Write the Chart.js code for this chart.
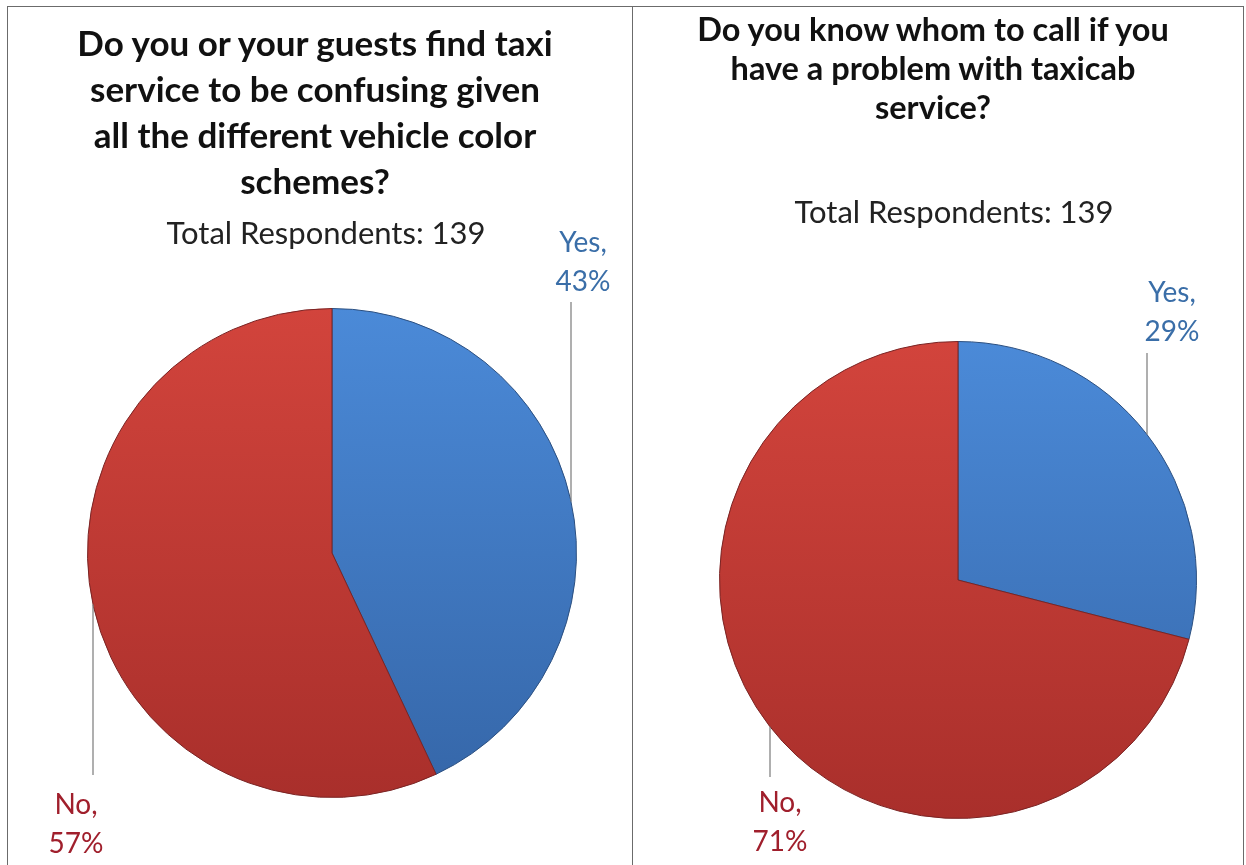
<!DOCTYPE html>
<html>
<head>
<meta charset="utf-8">
<script src="https://cdn.jsdelivr.net/npm/chart.js@4/dist/chart.umd.min.js"></script>
<style>
  body { margin: 0; background: #fff; font-family: Lato, "Open Sans", sans-serif; }
  #page { position: relative; width: 1246px; height: 865px; overflow: hidden; }
  .frame { position: absolute; background: #6b6b6b; }
  .panel { position: absolute; top: 0; height: 865px; }
  .title { position: absolute; text-align: center; font-weight: bold; color: #111; white-space: nowrap; }
  .sub { position: absolute; text-align: center; color: #222; white-space: nowrap; }
</style>
</head>
<body>
<div id="page">
  <div class="frame" style="left:7px;top:6px;width:1237px;height:1px"></div>
  <div class="frame" style="left:7px;top:6px;width:1px;height:859px"></div>
  <div class="frame" style="left:632px;top:6px;width:1px;height:859px"></div>
  <div class="frame" style="left:1243px;top:6px;width:1px;height:859px"></div>

  <div class="panel" style="left:0;width:632px"><canvas id="pieLeft"></canvas></div>
  <div class="panel" style="left:632px;width:614px"><canvas id="pieRight"></canvas></div>

  <div class="title" id="titleLeft" style="left:15px;top:19px;width:600px;font-size:35px;line-height:46px"></div>
  <div class="sub" id="subLeft" style="left:126px;top:213px;width:400px;font-size:31px"></div>
  <div class="title" id="titleRight" style="left:633px;top:9px;width:600px;font-size:32.5px;line-height:39px"></div>
  <div class="sub" id="subRight" style="left:754px;top:192px;width:400px;font-size:31px"></div>
</div>
<script>
// data
let categories = ["Yes", "No"];
let confusingValues = [43, 57];
let whomToCallValues = [29, 71];

let leftTitle = ["Do you or your guests find taxi", "service to be confusing given", "all the different vehicle color", "schemes?"];
let rightTitle = ["Do you know whom to call if you", "have a problem with taxicab", "service?"];
let respondents = "Total Respondents: 139";

document.getElementById("titleLeft").innerHTML = leftTitle.join("<br>");
document.getElementById("titleRight").innerHTML = rightTitle.join("<br>");
document.getElementById("subLeft").textContent = respondents;
document.getElementById("subRight").textContent = respondents;

const sliceColors = [
    { top: "#4b8ad8", bottom: "#3566a8", edge: "#2b4f80", text: "#3a6ea8" },
    { top: "#d2443c", bottom: "#a92f2b", edge: "#7a2424", text: "#a01f2c" }
];

function sliceFill(context) {
    const chart = context.chart;
    const area = chart.chartArea;
    const c = sliceColors[context.dataIndex];
    if (!area) return c.top;
    const g = chart.ctx.createLinearGradient(0, area.top, 0, area.bottom);
    g.addColorStop(0, c.top);
    g.addColorStop(1, c.bottom);
    return g;
}

// labels with vertical leader lines, placed per chart
const calloutPlugin = {
    id: "callouts",
    afterDraw(chart, args, opts) {
        const ctx = chart.ctx;
        const meta = chart.getDatasetMeta(0);
        const values = chart.data.datasets[0].data;
        ctx.save();
        opts.items.forEach((it, i) => {
            const arc = meta.data[i];
            const r = arc.outerRadius;
            const dx = it.lineX - arc.x;
            const dy = Math.sqrt(Math.max(r * r - dx * dx, 0));
            const hitY = it.below ? arc.y + dy : arc.y - dy;
            ctx.strokeStyle = "#7a7a7a";
            ctx.lineWidth = 1.2;
            ctx.beginPath();
            ctx.moveTo(it.lineX, it.lineFrom);
            ctx.lineTo(it.lineX, hitY);
            ctx.stroke();

            ctx.fillStyle = sliceColors[i].text;
            ctx.font = "28px Lato, 'Open Sans', sans-serif";
            ctx.textAlign = "center";
            ctx.textBaseline = "middle";
            ctx.fillText(chart.data.labels[i] + ",", it.textX, it.textY);
            ctx.fillText(values[i] + "%", it.textX, it.textY + 39);
        });
        ctx.restore();
    }
};

function makePie(id, values, padding, items) {
    const ctx = document.getElementById(id);
    return new Chart(ctx, {
        type: "pie",
        data: {
            labels: categories,
            datasets: [{
                data: values,
                backgroundColor: sliceFill,
                borderColor: sliceColors.map(c => c.edge),
                borderWidth: 1
            }]
        },
        options: {
            responsive: true,
            maintainAspectRatio: false,
            animation: false,
            layout: { padding: padding },
            plugins: {
                legend: { display: false },
                tooltip: { enabled: false },
                callouts: { items: items }
            }
        },
        plugins: [calloutPlugin]
    });
}

makePie("pieLeft", confusingValues,
    { left: 87, right: 55, top: 308, bottom: 67 },
    [
        { lineX: 571, lineFrom: 302, below: false, textX: 583, textY: 243 },
        { lineX: 93, lineFrom: 775, below: true, textX: 76, textY: 805 }
    ]);

makePie("pieRight", whomToCallValues,
    { left: 87, right: 49, top: 341, bottom: 46 },
    [
        { lineX: 515, lineFrom: 353, below: false, textX: 540, textY: 293 },
        { lineX: 138, lineFrom: 777, below: true, textX: 148, textY: 803 }
    ]);
</script>
</body>
</html>
